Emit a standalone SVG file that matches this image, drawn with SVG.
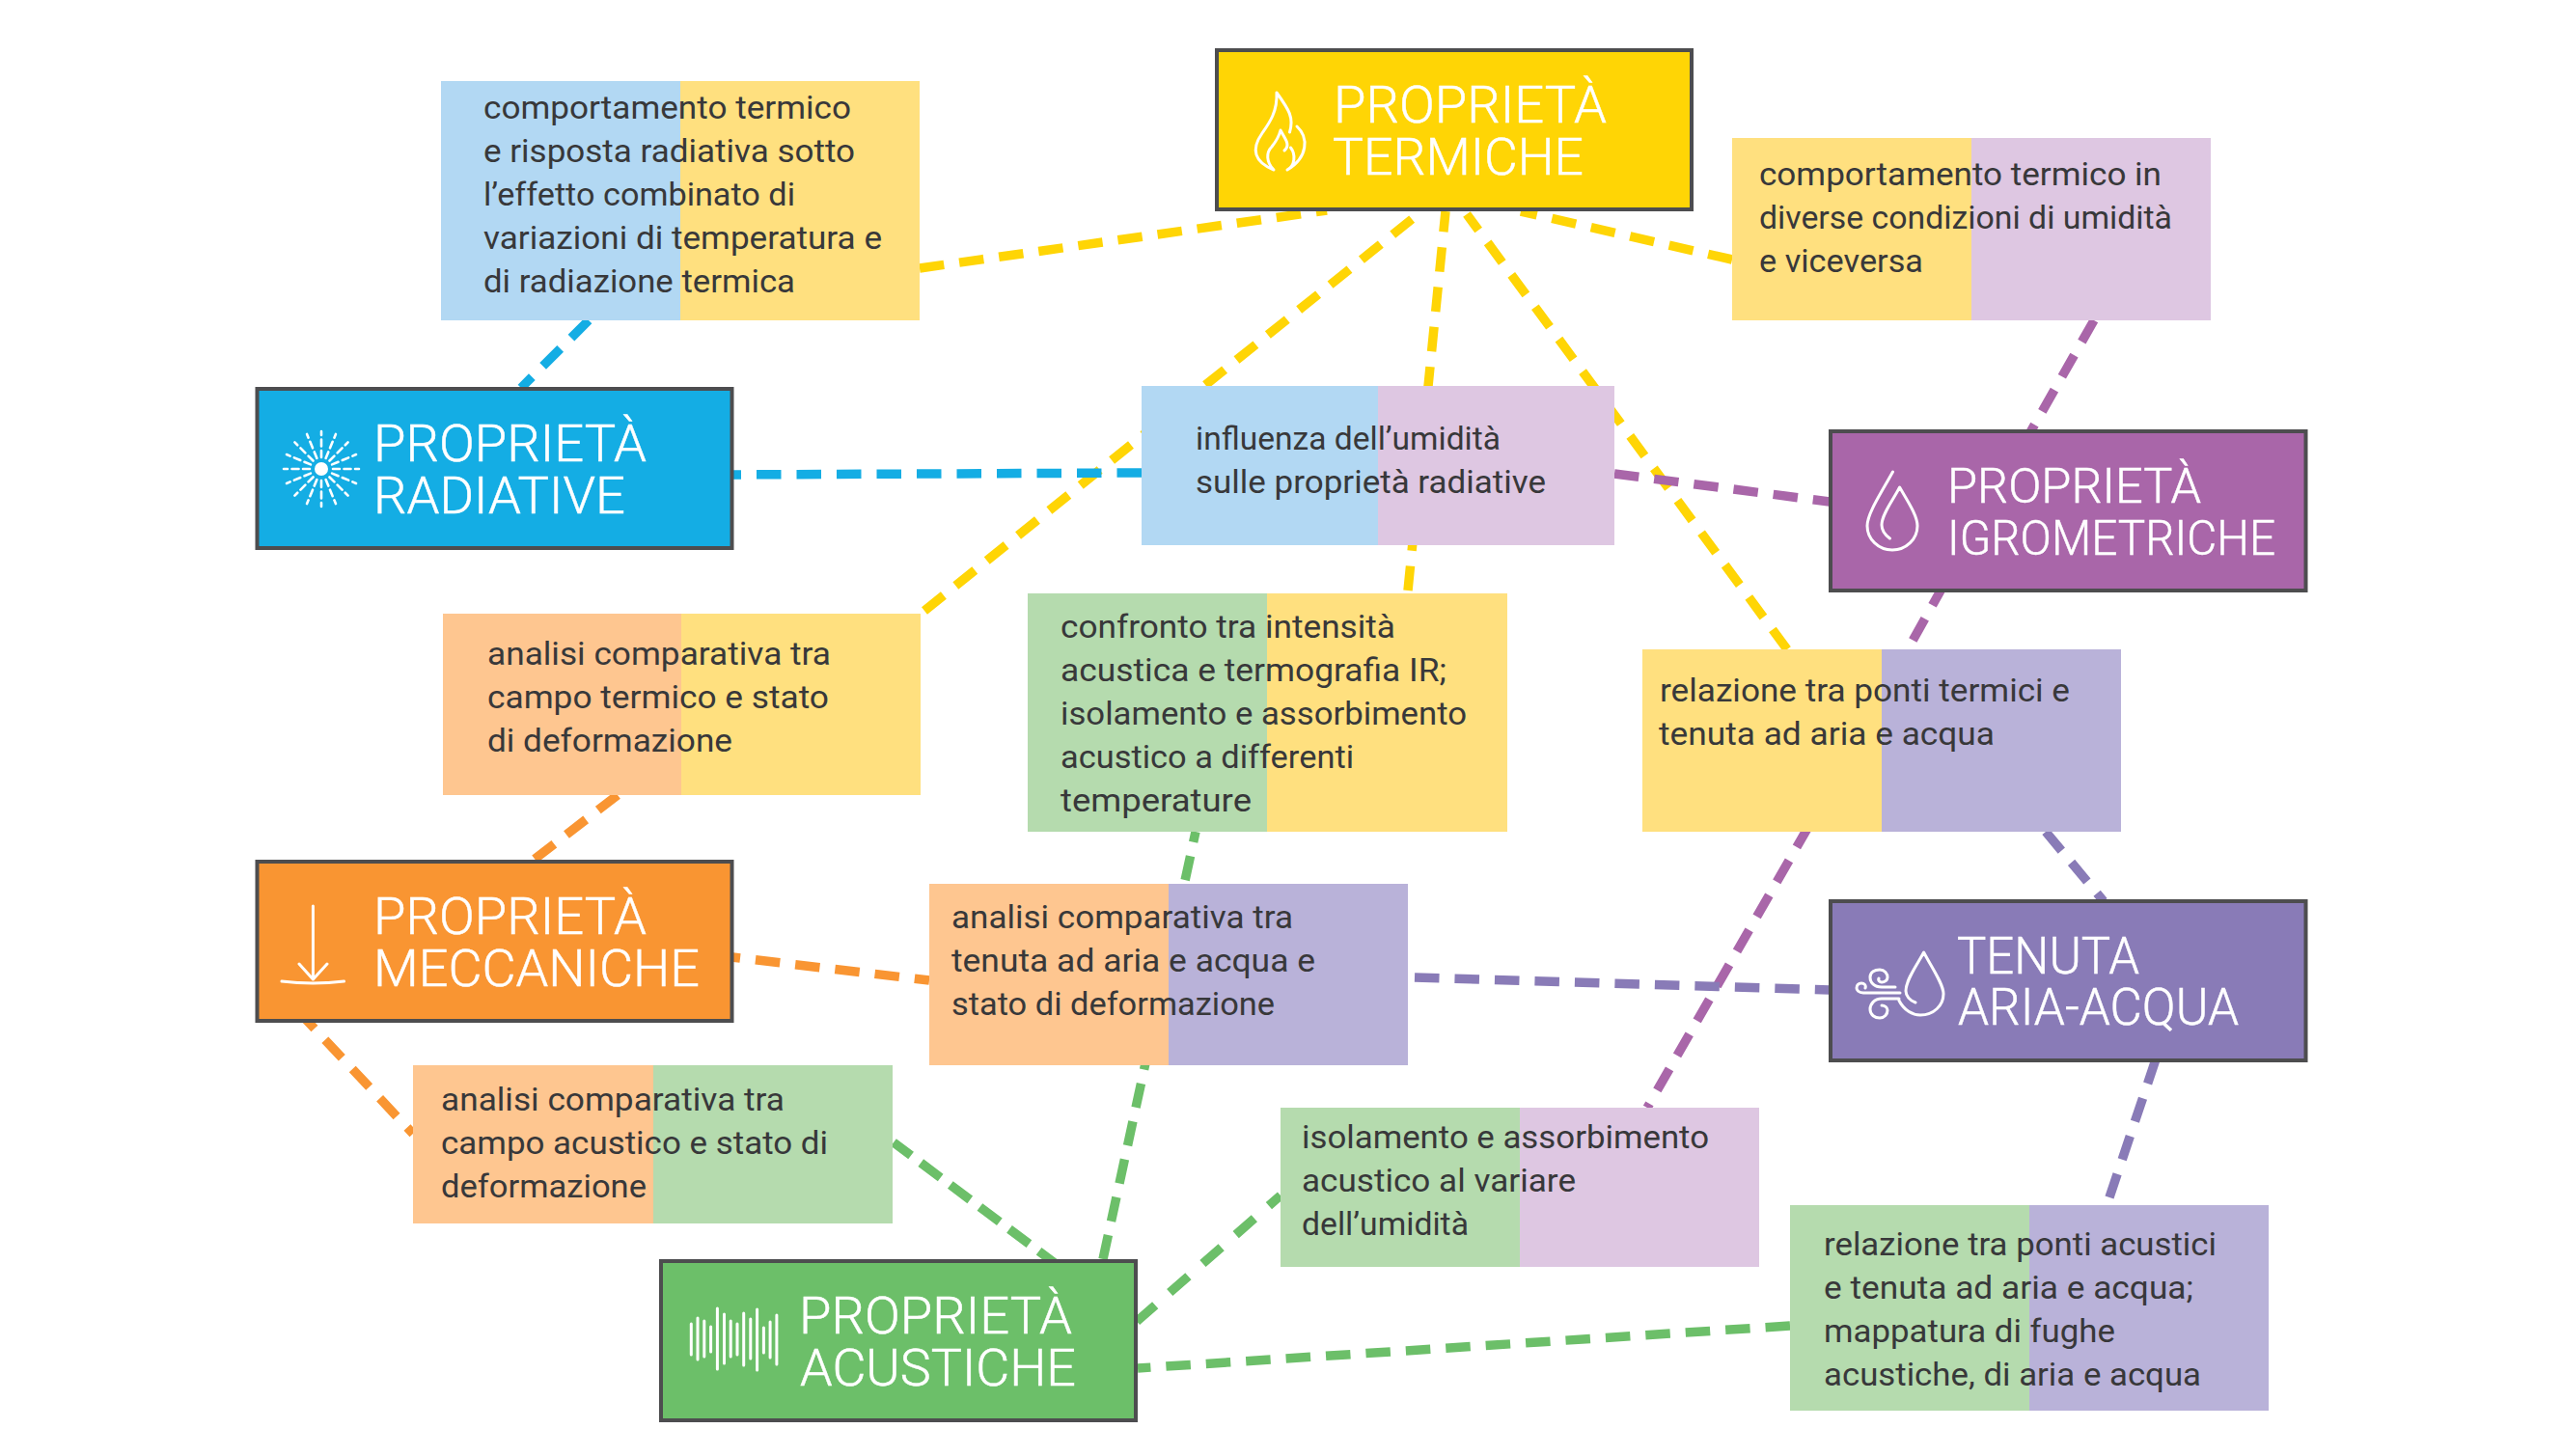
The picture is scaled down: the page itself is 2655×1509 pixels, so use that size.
<svg xmlns="http://www.w3.org/2000/svg" width="2655" height="1509" viewBox="0 0 2655 1509">
<style>
.c{fill:none;stroke-width:9.500;stroke-dasharray:25.5 16}
.cy{stroke:#FFD505}.cb{stroke:#14ADE4}.cp{stroke:#A966A9}.cv{stroke:#897BB7}.co{stroke:#F99532}.cg{stroke:#6CBF69}
.n{stroke:#4D4D4F;stroke-width:4}
.t{font-family:"Roboto","Liberation Sans",sans-serif;font-weight:300;font-size:54px;fill:#fff;stroke:#fff;stroke-width:.5}
.b{font-family:"Roboto","Liberation Sans",sans-serif;font-weight:400;font-size:33px;fill:#38383A}
.i{fill:none;stroke:#fff;stroke-width:3;stroke-linecap:round;stroke-linejoin:round}
.ly{fill:#FFE07F}.lb{fill:#B2D8F3}.ll{fill:#DEC7E2}.lo{fill:#FEC690}.lg{fill:#B5DBAE}.lv{fill:#B9B2D9}
</style>
<defs>
<g id="ray"><path d="M0 -12V-39" fill="none" stroke="#fff" stroke-width="2.6" stroke-linecap="round" stroke-dasharray="7 4.5"/></g>
</defs>
<rect width="2655" height="1509" fill="#fff"/>
<g id="connectors">
<path class="c cy" d="M953 278L1375 218"/>
<path class="c cy" d="M1795 269L1576 219"/>
<path class="c cy" d="M958 633L1472 220"/>
<path class="c cy" d="M1459 612L1498 219"/>
<path class="c cy" d="M1852 673L1520 222"/>
<path class="c cb" d="M610 332L540 402"/>
<path class="c cb" d="M1183 490L755 492"/>
<path class="c cp" d="M1673 491L1896 520"/>
<path class="c cp" d="M2170 332L2100 455"/>
<path class="c cp" d="M2015 605L1977 673"/>
<path class="c cp" d="M1874.600 855.800L1707 1148"/>
<path class="c cv" d="M2120 862L2180 934"/>
<path class="c cv" d="M1466 1013L1896 1026"/>
<path class="c cv" d="M2186 1241L2235 1095"/>
<path class="c co" d="M640 824L552 892"/>
<path class="c co" d="M741.700 990L963 1016"/>
<path class="c co" d="M308.500 1047.400L428 1175"/>
<path class="c cg" d="M1097 1312L926 1184" style="stroke-dasharray:25.5 12.7"/>
<path class="c cg" d="M1143 1305L1239 862" style="stroke-dasharray:25.5 14.7"/>
<path class="c cg" d="M1178 1369.500L1327 1239" style="stroke-dasharray:25.5 20"/>
<path class="c cg" d="M1855 1374L1179 1418"/>
</g>
<g id="box-radiativo-termico">
<rect class="lb" x="457" y="84" width="248" height="248"/><rect class="ly" x="705" y="84" width="248" height="248"/>
<text class="b" x="501" y="123" textLength="381" lengthAdjust="spacingAndGlyphs">comportamento termico</text>
<text class="b" x="501" y="168" textLength="385" lengthAdjust="spacingAndGlyphs">e risposta radiativa sotto</text>
<text class="b" x="501" y="213" textLength="323" lengthAdjust="spacingAndGlyphs">l’effetto combinato di</text>
<text class="b" x="501" y="258" textLength="413" lengthAdjust="spacingAndGlyphs">variazioni di temperatura e</text>
<text class="b" x="501" y="303" textLength="323" lengthAdjust="spacingAndGlyphs">di radiazione termica</text>
</g>
<g id="box-termico-igro">
<rect class="ly" x="1795" y="143" width="248" height="189"/><rect class="ll" x="2043" y="143" width="248" height="189"/>
<text class="b" x="1823" y="192" textLength="417" lengthAdjust="spacingAndGlyphs">comportamento termico in</text>
<text class="b" x="1823" y="237" textLength="428" lengthAdjust="spacingAndGlyphs">diverse condizioni di umidità</text>
<text class="b" x="1823" y="282" textLength="170" lengthAdjust="spacingAndGlyphs">e viceversa</text>
</g>
<g id="box-radiativo-igro">
<rect class="lb" x="1183" y="400" width="245" height="165"/><rect class="ll" x="1428" y="400" width="245" height="165"/>
<text class="b" x="1239" y="466" textLength="316" lengthAdjust="spacingAndGlyphs">influenza dell’umidità</text>
<text class="b" x="1239" y="511" textLength="363" lengthAdjust="spacingAndGlyphs">sulle proprietà radiative</text>
</g>
<g id="box-acustico-termico">
<rect class="lg" x="1065" y="615" width="248" height="247"/><rect class="ly" x="1313" y="615" width="249" height="247"/>
<text class="b" x="1099" y="661" textLength="347" lengthAdjust="spacingAndGlyphs">confronto tra intensità</text>
<text class="b" x="1099" y="706" textLength="400" lengthAdjust="spacingAndGlyphs">acustica e termografia IR;</text>
<text class="b" x="1099" y="751" textLength="421" lengthAdjust="spacingAndGlyphs">isolamento e assorbimento</text>
<text class="b" x="1099" y="796" textLength="304" lengthAdjust="spacingAndGlyphs">acustico a differenti</text>
<text class="b" x="1099" y="841" textLength="198" lengthAdjust="spacingAndGlyphs">temperature</text>
</g>
<g id="box-mecc-termico">
<rect class="lo" x="459" y="636" width="247" height="188"/><rect class="ly" x="706" y="636" width="248" height="188"/>
<text class="b" x="505" y="689" textLength="356" lengthAdjust="spacingAndGlyphs">analisi comparativa tra</text>
<text class="b" x="505" y="734" textLength="354" lengthAdjust="spacingAndGlyphs">campo termico e stato</text>
<text class="b" x="505" y="779" textLength="254" lengthAdjust="spacingAndGlyphs">di deformazione</text>
</g>
<g id="box-termico-tenuta">
<rect class="ly" x="1702" y="673" width="248" height="189"/><rect class="lv" x="1950" y="673" width="248" height="189"/>
<text class="b" x="1720" y="727" textLength="425" lengthAdjust="spacingAndGlyphs">relazione tra ponti termici e</text>
<text class="b" x="1719" y="772" textLength="348" lengthAdjust="spacingAndGlyphs">tenuta ad aria e acqua</text>
</g>
<g id="box-mecc-tenuta">
<rect class="lo" x="963" y="916" width="248" height="188"/><rect class="lv" x="1211" y="916" width="248" height="188"/>
<text class="b" x="986" y="962" textLength="354" lengthAdjust="spacingAndGlyphs">analisi comparativa tra</text>
<text class="b" x="986" y="1007" textLength="377" lengthAdjust="spacingAndGlyphs">tenuta ad aria e acqua e</text>
<text class="b" x="986" y="1052" textLength="335" lengthAdjust="spacingAndGlyphs">stato di deformazione</text>
</g>
<g id="box-mecc-acustico">
<rect class="lo" x="428" y="1104" width="249" height="164"/><rect class="lg" x="677" y="1104" width="248" height="164"/>
<text class="b" x="457" y="1151" textLength="356" lengthAdjust="spacingAndGlyphs">analisi comparativa tra</text>
<text class="b" x="457" y="1196" textLength="401" lengthAdjust="spacingAndGlyphs">campo acustico e stato di</text>
<text class="b" x="457" y="1241" textLength="213" lengthAdjust="spacingAndGlyphs">deformazione</text>
</g>
<g id="box-acustico-igro">
<rect class="lg" x="1327" y="1148" width="248" height="165"/><rect class="ll" x="1575" y="1148" width="248" height="165"/>
<text class="b" x="1349" y="1190" textLength="422" lengthAdjust="spacingAndGlyphs">isolamento e assorbimento</text>
<text class="b" x="1349" y="1235" textLength="284" lengthAdjust="spacingAndGlyphs">acustico al variare</text>
<text class="b" x="1349" y="1280" textLength="173" lengthAdjust="spacingAndGlyphs">dell’umidità</text>
</g>
<g id="box-acustico-tenuta">
<rect class="lg" x="1855" y="1249" width="248" height="213"/><rect class="lv" x="2103" y="1249" width="248" height="213"/>
<text class="b" x="1890" y="1301" textLength="407" lengthAdjust="spacingAndGlyphs">relazione tra ponti acustici</text>
<text class="b" x="1890" y="1346" textLength="383" lengthAdjust="spacingAndGlyphs">e tenuta ad aria e acqua;</text>
<text class="b" x="1890" y="1391" textLength="302" lengthAdjust="spacingAndGlyphs">mappatura di fughe</text>
<text class="b" x="1890" y="1436" textLength="391" lengthAdjust="spacingAndGlyphs">acustiche, di aria e acqua</text>
</g>
<g id="node-termiche">
<rect class="n" x="1261" y="52" width="492" height="165" fill="#FFD505"/>
<path class="i" d="M1336.5 137C1341 122 1336 114 1323 96C1324 116 1315 128 1308 138C1296 155 1300 168 1320 176C1312 168 1312 158 1318 152C1322 147 1325 143 1327 135C1331 143 1338 150 1331 156M1344 131C1356 142 1356 163 1334 176M1337.5 153C1343 160 1342 172 1334 176"/>
<text class="t" x="1382" y="127" textLength="283" lengthAdjust="spacingAndGlyphs">PROPRIETÀ</text>
<text class="t" x="1381" y="181" textLength="260" lengthAdjust="spacingAndGlyphs">TERMICHE</text>
</g>
<g id="node-radiative">
<rect class="n" x="266.500" y="403" width="492" height="165" fill="#14ADE4"/>
<circle cx="333" cy="486" r="7" fill="#fff"/>
<use href="#ray" transform="translate(333 486)"/><use href="#ray" transform="translate(333 486) rotate(22.5)"/><use href="#ray" transform="translate(333 486) rotate(45)"/><use href="#ray" transform="translate(333 486) rotate(67.5)"/><use href="#ray" transform="translate(333 486) rotate(90)"/><use href="#ray" transform="translate(333 486) rotate(112.5)"/><use href="#ray" transform="translate(333 486) rotate(135)"/><use href="#ray" transform="translate(333 486) rotate(157.5)"/><use href="#ray" transform="translate(333 486) rotate(180)"/><use href="#ray" transform="translate(333 486) rotate(202.5)"/><use href="#ray" transform="translate(333 486) rotate(225)"/><use href="#ray" transform="translate(333 486) rotate(247.5)"/><use href="#ray" transform="translate(333 486) rotate(270)"/><use href="#ray" transform="translate(333 486) rotate(292.5)"/><use href="#ray" transform="translate(333 486) rotate(315)"/><use href="#ray" transform="translate(333 486) rotate(337.5)"/>
<text class="t" x="387" y="478" textLength="283" lengthAdjust="spacingAndGlyphs">PROPRIETÀ</text>
<text class="t" x="387" y="532" textLength="261" lengthAdjust="spacingAndGlyphs">RADIATIVE</text>
</g>
<g id="node-igrometriche">
<rect class="n" x="1897" y="447" width="492.500" height="165" fill="#A966A9"/>
<path class="i" d="M1961.500 489C1950 510 1935 532 1935 545A26 25 0 0 0 1987 545C1987 534 1976 518 1968.600 505C1962 518 1950 533 1950 544C1950 550 1953 554 1958.400 558"/>
<text class="t" x="2018" y="521" textLength="263" lengthAdjust="spacingAndGlyphs" style="font-size:50px">PROPRIETÀ</text>
<text class="t" x="2018" y="575" textLength="340" lengthAdjust="spacingAndGlyphs" style="font-size:50px">IGROMETRICHE</text>
</g>
<g id="node-tenuta">
<rect class="n" x="1897" y="934" width="492.500" height="165" fill="#897BB7"/>
<path class="i" d="M1968 1037C1973 1047 1982 1052 1990 1052C2004 1052 2014 1042 2014 1030C2014 1020 2002 1003 1993.600 987C1988 998 1975 1015 1975 1027C1975 1032 1979 1037 1985 1039M1964 1023H1950C1942 1023 1938 1018 1938 1013C1938 1007 1943 1005 1948 1005C1953 1005 1956 1009 1956 1013C1956 1016 1953 1018 1950 1018C1948 1018 1946 1016 1947 1014M1969 1029H1931C1926 1029 1924 1026 1924 1024C1924 1021 1926 1019 1929 1019C1932 1019 1934 1021 1933 1024M1968 1035H1950C1942 1035 1938 1041 1938 1046C1938 1052 1943 1055 1948 1055C1953 1055 1956 1051 1956 1047C1956 1044 1953 1042 1950 1042"/>
<text class="t" x="2028" y="1009" textLength="189" lengthAdjust="spacingAndGlyphs">TENUTA</text>
<text class="t" x="2029" y="1062" textLength="291" lengthAdjust="spacingAndGlyphs">ARIA-ACQUA</text>
</g>
<g id="node-meccaniche">
<rect class="n" x="266.500" y="893" width="492" height="165" fill="#F99532"/>
<path class="i" d="M324.400 939V1015M310 999L324.400 1015L339 999M292 1017Q324.400 1021 356.500 1017"/>
<text class="t" x="387" y="968" textLength="283" lengthAdjust="spacingAndGlyphs">PROPRIETÀ</text>
<text class="t" x="387" y="1022" textLength="338" lengthAdjust="spacingAndGlyphs">MECCANICHE</text>
</g>
<g id="node-acustiche">
<rect class="n" x="685" y="1307" width="492" height="165" fill="#6CBF69"/>
<path class="i" d="M716.300 1372V1404M723 1366V1409M729.800 1369V1406M736.600 1375V1401M743.400 1356V1419M750.500 1362V1413M757.200 1369V1406M764 1372V1404M770.700 1361V1415M777.800 1367V1408M784.600 1357V1420M791.400 1376V1402M798.100 1370V1407M804.900 1363V1414"/>
<text class="t" x="828" y="1382" textLength="283" lengthAdjust="spacingAndGlyphs">PROPRIETÀ</text>
<text class="t" x="829" y="1436" textLength="286" lengthAdjust="spacingAndGlyphs">ACUSTICHE</text>
</g>
</svg>
